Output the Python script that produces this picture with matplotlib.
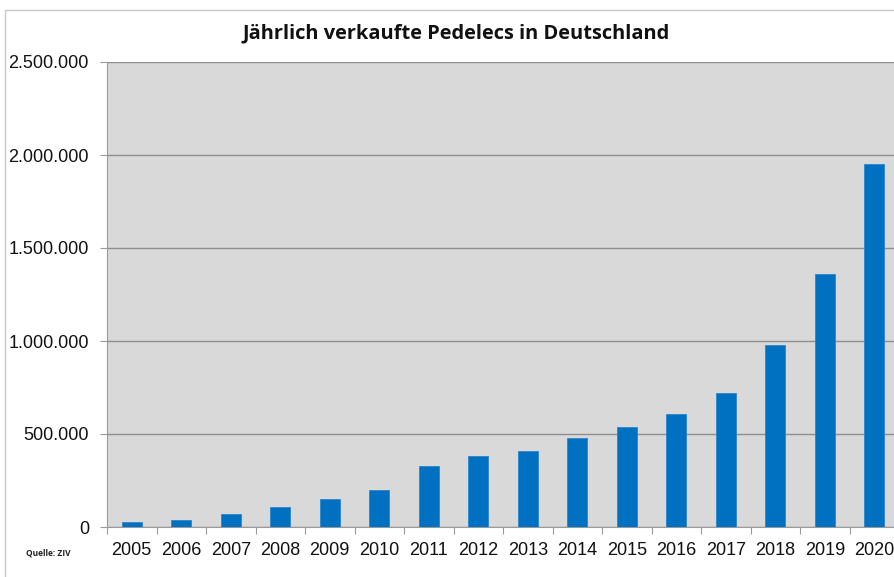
import matplotlib
matplotlib.use("Agg")
import matplotlib.pyplot as plt
from matplotlib.ticker import FuncFormatter
from matplotlib.patches import Rectangle

years = ["2005", "2006", "2007", "2008", "2009", "2010", "2011", "2012",
         "2013", "2014", "2015", "2016", "2017", "2018", "2019", "2020"]
sales = [25000, 40000, 70000, 110000, 150000, 200000, 330000, 380000,
         410000, 480000, 535000, 605000, 720000, 980000, 1360000, 1950000]
yticks = [0, 500000, 1000000, 1500000, 2000000, 2500000]
title = "Jährlich verkaufte Pedelecs in Deutschland"
source = "Quelle: ZIV"

W, H = 894, 577
fig = plt.figure(figsize=(W / 100, H / 100), dpi=100)
fig.patch.set_facecolor("white")

# outer frame
fig.add_artist(Rectangle((5 / W, -0.05), 1.2, (H - 10) / H + 0.05, transform=fig.transFigure,
                         fill=False, edgecolor="#c8c8c8", linewidth=1.0))

left, right, top, bottom = 107, 899, 62, 527
ax = fig.add_axes([left / W, 1 - bottom / H, (right - left) / W, (bottom - top) / H])
ax.set_facecolor("#d9d9d9")

x = list(range(len(years)))
ax.bar(x, sales, width=0.4, color="#0070c0", edgecolor="#2a85cc", linewidth=0.6, zorder=3)

ax.set_xlim(-0.5, len(years) - 0.5)
ax.set_ylim(0, 2500000)
ax.set_yticks(yticks)
ax.yaxis.set_major_formatter(FuncFormatter(lambda v, p: f"{int(v):,}".replace(",", ".")))
ax.set_xticks(x)
ax.set_xticklabels(years)
ax.set_xticks([i - 0.5 for i in range(len(years) + 1)], minor=True)
ax.tick_params(axis="x", which="major", length=0, pad=11, labelsize=13, labelcolor="#111111")
ax.tick_params(axis="x", which="minor", length=5, color="#9a9a9a", width=0.8)
ax.tick_params(axis="y", length=5, color="#9a9a9a", width=0.8, pad=8, labelsize=13, labelcolor="#111111")
for lab in ax.get_xticklabels() + ax.get_yticklabels():
    lab.set_fontfamily("Liberation Sans")

ax.grid(axis="y", color="#8e8e8e", linewidth=1.0, zorder=1)
ax.set_axisbelow(True)
for s in ["top", "right"]:
    ax.spines[s].set_visible(False)
ax.spines["left"].set_color("#9a9a9a")
ax.spines["bottom"].set_color("#9a9a9a")

fig.text(456 / W, 1 - 33 / H, title, ha="center", va="center", fontsize=14.4,
         fontweight="bold", family="Open Sans", color="#111111")
fig.text(26 / W, 1 - 553 / H, source, ha="left", va="center", fontsize=6,
         fontweight="bold", family="Open Sans", color="#222222")

fig.savefig("out.png", dpi=100)
